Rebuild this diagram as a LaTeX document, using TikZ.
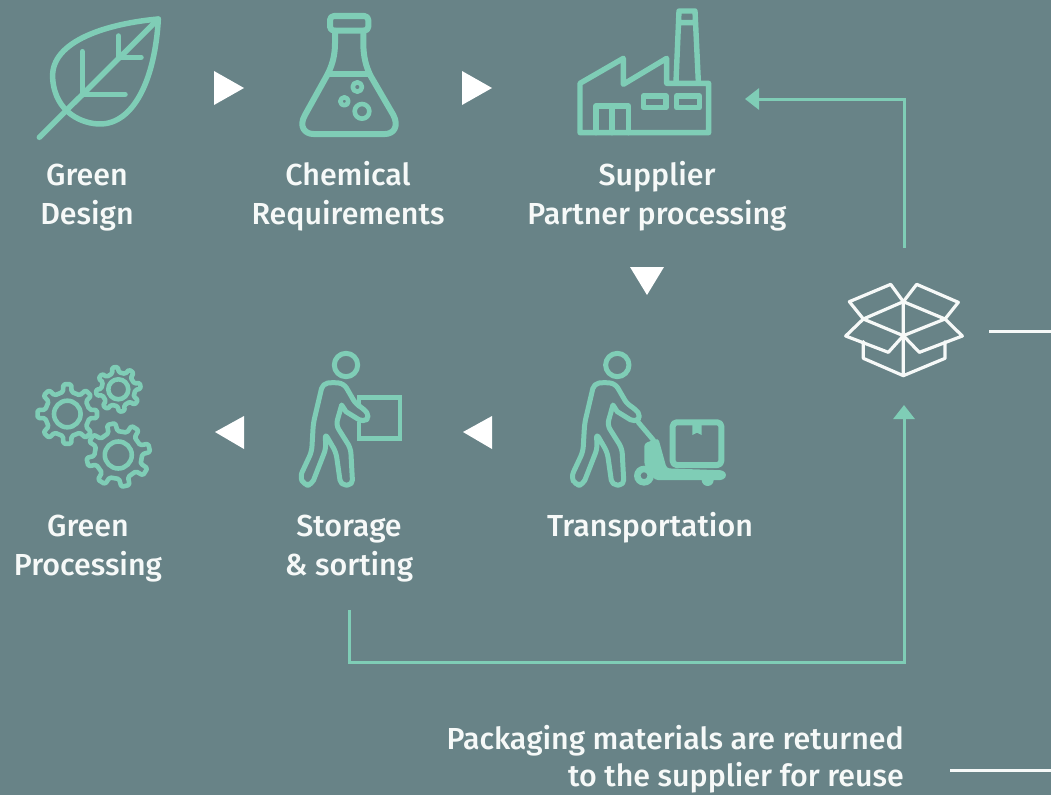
\documentclass[tikz,border=0pt]{standalone}
\usepackage{fontspec}
\setmainfont{Fira Sans Medium}
\usetikzlibrary{arrows.meta}
\definecolor{bgc}{RGB}{104,131,135}
\definecolor{mint}{RGB}{127,205,182}
\definecolor{txtc}{RGB}{246,249,248}
\newcommand{\gearicon}[6]{% cx cy rot router rroot rhole
  \begin{scope}[shift={(#1,#2)}]
    \draw[icon,line width=4.6pt,rounded corners=1.5pt] ({#3-11}:#5)
      \foreach \a in {0,45,...,315}{
        -- ({#3+\a-11}:#5) -- ({#3+\a-7.5}:#4) -- ({#3+\a+7.5}:#4) -- ({#3+\a+11}:#5)
      } -- cycle;
    \draw[icon,line width=4.6pt] (0,0) circle[radius=#6];
  \end{scope}}
\newcommand{\personicon}{%
  \draw[icon,line width=5pt] (198,60) circle[radius=35];
  \draw[icon,line width=5pt,rounded corners=5pt]
    (160,112) -- (128,116) -- (100,235) -- (95,320) -- (60,395) -- (72,420) -- (95,420)
    -- (138,310) -- (135,265) -- (168,322) -- (182,420) -- (218,420) -- (212,310) -- (168,240)
    [sharp corners] -- (185,180) -- (198,200)
    [rounded corners=5pt] -- (250,232) -- (270,215) -- (250,190) -- (228,178) -- (192,116) -- cycle;}
\tikzset{
  icon/.style={draw=mint,line cap=round,line join=round},
  link/.style={draw=mint,line width=3pt,-{Triangle[length=14pt,width=21pt]}},
  flow/.style={fill=white,draw=none},
  whitebar/.style={draw=txtc,line width=3pt},
  boxline/.style={draw=txtc,line width=3.2pt,line join=round,line cap=round},
  caption/.style={text=txtc,font=\fontsize{30.4}{39}\selectfont,align=center,inner sep=0pt,anchor=center}
}
\begin{document}
\begin{tikzpicture}[x=1pt,y=-1pt]
\useasboundingbox (0,0) rectangle (1051,795);
\fill[bgc] (0,0) rectangle (1051,795);

% leaf
\begin{scope}[scale=0.33333]
\draw[icon,line width=5.5pt] (475,57) .. controls (330,70) and (150,120) .. (158,235) .. controls (165,340) and (250,372) .. (300,372) .. controls (400,372) and (465,240) .. (475,57) -- cycle;
\draw[icon,line width=5.5pt] (118,412) -- (475,57);
\draw[icon,line width=5.5pt] (247,155) -- (247,285) (250,283) -- (375,283) (355,108) -- (355,170) (358,172) -- (423,172);
\end{scope}

% flask
\begin{scope}[shift={(280,0)},scale=0.33333]
\draw[icon,line width=6pt,rounded corners=4pt] (150,48) rectangle (265,92);
\draw[icon,line width=6pt] (165,92) -- (165,130) .. controls (165,170) and (155,200) .. (140,228) -- (75,345) .. controls (55,380) and (75,402) .. (100,402) -- (315,402) .. controls (340,402) and (358,380) .. (340,345) -- (272,228) .. controls (258,200) and (250,170) .. (250,130) -- (250,92);
\draw[icon,line width=6pt] (145,221) -- (268,221);
\draw[icon,line width=4.6pt] (232,261) circle[radius=14] (193,304) circle[radius=12] (246,334) circle[radius=22];
\end{scope}

% factory
\begin{scope}[shift={(560,0)},scale=0.33333]
\draw[icon,line width=5.4pt] (60,250) -- (190,175) -- (190,253) -- (320,175) -- (320,250) -- (446,250) -- (446,398) -- (60,398) -- cycle;
\draw[icon,line width=5.4pt] (108,398) -- (108,318) -- (205,318) -- (205,398) (156,318) -- (156,398);
\draw[icon,line width=5.4pt] (250,288) rectangle (318,323) (350,288) rectangle (418,323);
\draw[icon,line width=5.4pt] (348,245) -- (357,33) -- (405,33) -- (415,245) (357,68) -- (405,68);
\end{scope}

% flow triangles
\fill[flow] (214,71) -- (244,88) -- (214,105) -- cycle;
\fill[flow] (462,71) -- (492,88) -- (462,105) -- cycle;
\fill[flow] (630,267) -- (664,267) -- (647,295) -- cycle;
\fill[flow] (244,416) -- (244,449) -- (215,432) -- cycle;
\fill[flow] (492,416) -- (492,449) -- (463,432) -- cycle;

% gears
\gearicon{67.3}{414}{0}{30}{22.5}{13.3}
\gearicon{118.3}{389.3}{36}{22.5}{17}{10}
\gearicon{118.3}{455}{32}{32}{24}{13.5}

% storage
\begin{scope}[shift={(280,345)},scale=0.33333]
\personicon
\draw[icon,line width=4.6pt,line cap=butt,line join=miter] (237,190) -- (237,157) -- (360,157) -- (360,280) -- (237,280) -- (237,232);
\end{scope}

% transportation
\begin{scope}[shift={(551.3,345)},scale=0.33333]
\personicon
\end{scope}
\begin{scope}[shift={(555,345)},scale=0.33333]
\draw[icon,line width=5pt] (250,232) -- (295,285);
\fill[mint,rounded corners=3pt] (268,295) -- (310,280) -- (335,370) -- (505,376) -- (516,390) -- (505,405) -- (300,405) -- (268,360) -- cycle;
\draw[mint,line width=6.5pt,fill=bgc] (267,392) circle[radius=20];
\fill[mint] (458,405) ellipse[x radius=18,y radius=18];
\draw[icon,line width=6pt,rounded corners=4pt] (353,232) rectangle (499,360);
\fill[mint] (412,240) -- (440,240) -- (440,270) -- (426,263) -- (412,270) -- cycle;
\end{scope}

% open box
\begin{scope}[shift={(830,270)},scale=0.33333]
\coordinate (bA) at (220,95);
\coordinate (bB) at (220,197);
\coordinate (bC) at (100,147);
\coordinate (bD) at (345,147);
\draw[boxline] (bA) -- (bC) -- (bB) -- (bD) -- cycle;
\draw[boxline] (bA) -- (182,43) -- (58,95) -- (bC);
\draw[boxline] (bA) -- (260,43) -- (385,97) -- (bD);
\draw[boxline] (bC) -- (47,198) -- (175,247) -- (bB);
\draw[boxline] (bD) -- (397,198) -- (268,247) -- (bB);
\draw[boxline] (100,215) -- (100,265) -- (220,317) -- (345,265) -- (345,215);
\draw[boxline] (bA) -- (220,317);
\end{scope}

% captions
\node[caption] (n1) at (87,198) {Green\\Design};
\node[caption] (n2) at (348,196) {Chemical\\Requirements};
\node[caption] (n3) at (657,196) {Supplier\\Partner processing};
\node[caption] (n4) at (650,528) {Transportation};
\node[caption] (n5) at (349,549) {Storage\\\&~sorting};
\node[caption] (n6) at (88,549) {Green\\Processing};
\node[caption,align=right,anchor=east] (n7) at (904,759) {Packaging materials are returned\\[-2pt]to the supplier for reuse};

% connectors
\coordinate (boxtop) at (904,248);
\coordinate (boxbottom) at (904,405);
\coordinate (factoryport) at (745,99);
\coordinate (storageout) at (349,610);
\coordinate (cornerA) at (904,99);
\coordinate (cornerB) at (349,662);
\coordinate (cornerC) at (904,662);
\draw[link] (storageout) -- (cornerB) -- (cornerC) -- (boxbottom);
\draw[link] (boxtop) -- (cornerA) -- (factoryport);
\coordinate (barA) at (989,331);
\coordinate (barB) at (1051,331);
\coordinate (barC) at (950,770);
\coordinate (barD) at (1051,770);
\draw[whitebar] (barA) -- (barB);
\draw[whitebar] (barC) -- (barD);
\end{tikzpicture}
\end{document}
